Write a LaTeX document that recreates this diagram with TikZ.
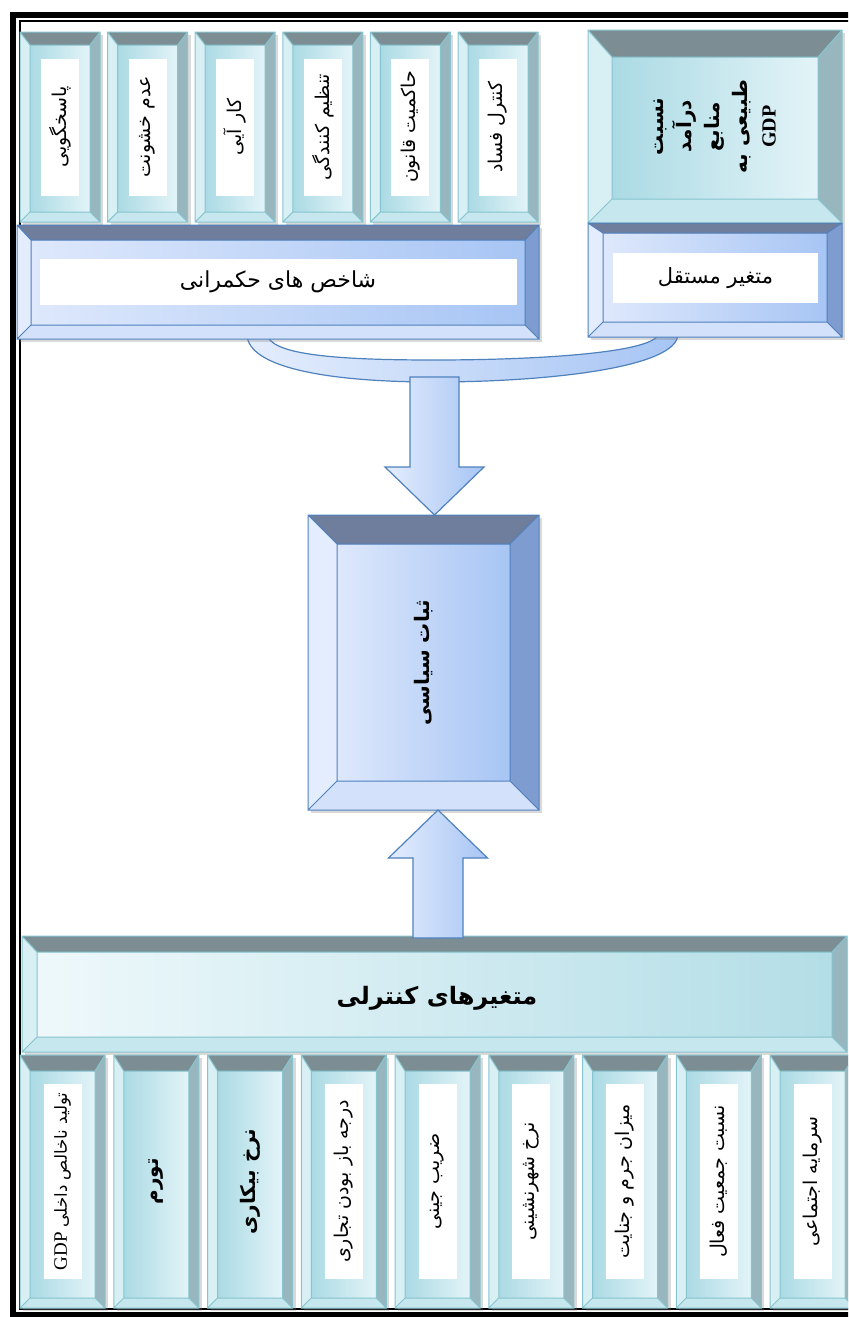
\documentclass[tikz,border=0pt]{standalone}
\usepackage{fontspec}
\usetikzlibrary{calc,shadows}
\TeXXeTstate=1
\newfontfamily\farsi[Script=Arabic]{DejaVu Sans}
\newfontfamily\latinfont{Liberation Serif}

% palettes
\definecolor{cyedgec}{HTML}{86C4CF}
\definecolor{cytopc}{HTML}{7C8E94}
\definecolor{cyleftc}{HTML}{D8EFF4}
\definecolor{cyrightc}{HTML}{98B6BE}
\definecolor{cybotc}{HTML}{C6E7EE}
\definecolor{cyfaceA}{HTML}{ABDAE4}
\definecolor{cyfaceB}{HTML}{E3F4F8}
\definecolor{blueedgec}{HTML}{4F81BD}
\definecolor{bluetopc}{HTML}{6E7E9C}
\definecolor{blueleftc}{HTML}{E4EDFD}
\definecolor{bluerightc}{HTML}{7E9CD0}
\definecolor{bluebotc}{HTML}{D3E1FA}
\definecolor{bluefaceA}{HTML}{DEE8FC}
\definecolor{bluefaceB}{HTML}{A7C5F4}

\tikzset{
  cytop/.style={fill=cytopc},
  cyleft/.style={fill=cyleftc},
  cyright/.style={fill=cyrightc},
  cybot/.style={fill=cybotc},
  cyface/.style={left color=cyfaceA, right color=cyfaceB},
  cyedge/.style={draw=cyedgec, line width=.5pt},
  cttop/.style={cytop},
  ctleft/.style={cyleft},
  ctright/.style={cyright},
  ctbot/.style={cybot},
  ctface/.style={left color=cyfaceB!60!white, right color=cyfaceA!90!white},
  ctedge/.style={cyedge},
  bltop/.style={fill=bluetopc},
  blleft/.style={fill=blueleftc},
  blright/.style={fill=bluerightc},
  blbot/.style={fill=bluebotc},
  blface/.style={left color=bluefaceA, right color=bluefaceB},
  bledge/.style={draw=blueedgec, line width=.5pt},
  box/.style={fill=white, inner sep=0pt, outer sep=0pt,
    drop shadow={opacity=.3, shadow xshift=1.5pt, shadow yshift=-1.5pt}},
  lbl/.style={font=\farsi\fontsize{9.5}{11}\selectfont, rotate=90, inner sep=0pt},
  strip/.style={lbl, fill=white},
  boldlbl/.style={lbl, font=\farsi\bfseries\fontsize{10}{14}\selectfont, align=center},
  arrowbody/.style={draw=blueedgec, line width=.6pt, left color=blueleftc, right color=bluefaceB},
}

% bevel frame round a box node: node, side depth, top depth, palette
\newcommand{\bevel}[4]{%
  \path let \p1=(#1.north west), \p2=(#1.south east) in
    coordinate (#1-a) at (\x1,\y1) coordinate (#1-b) at (\x2,\y1)
    coordinate (#1-c) at (\x2,\y2) coordinate (#1-d) at (\x1,\y2)
    coordinate (#1-e) at (\x1+#2,\y1-#3) coordinate (#1-f) at (\x2-#2,\y1-#3)
    coordinate (#1-g) at (\x2-#2,\y2+#2) coordinate (#1-h) at (\x1+#2,\y2+#2);
  \path[#4face] (#1-e) rectangle (#1-g);
  \fill[#4top] (#1-a) -- (#1-b) -- (#1-f) -- (#1-e) -- cycle;
  \fill[#4left] (#1-a) -- (#1-e) -- (#1-h) -- (#1-d) -- cycle;
  \fill[#4right] (#1-b) -- (#1-c) -- (#1-g) -- (#1-f) -- cycle;
  \fill[#4bot] (#1-d) -- (#1-h) -- (#1-g) -- (#1-c) -- cycle;
  \draw[#4edge] (#1-a) rectangle (#1-c) (#1-e) rectangle (#1-g)
    (#1-a) -- (#1-e) (#1-b) -- (#1-f) (#1-c) -- (#1-g) (#1-d) -- (#1-h);
}
% name, x, y, width, height, side, top, palette
\newcommand{\bevbox}[8]{%
  \node[box, minimum width=#4*0.5pt, minimum height=#5*0.5pt] (#1) at (#2,#3) {};
  \bevel{#1}{#6}{#7}{#8}}

\begin{document}
\begin{tikzpicture}[x=0.5pt, y=-0.5pt]
    \useasboundingbox (0,0) rectangle (848,1317);
    \clip (0,0) rectangle (848,1317);

    % double frame
    \draw[line width=3pt] (13,15) rectangle (880,1315);
    \draw[line width=.8pt] (20,21) rectangle (873,1309);

    % brace under the two upper groups
    \draw[arrowbody] (247,334) .. controls (247,368) and (330,382) .. (434,382)
        .. controls (545,382) and (678,368) .. (678,334) -- (658,334)
        .. controls (655,352) and (545,360) .. (434,360)
        .. controls (330,360) and (270,354) .. (267,334) -- cycle;

    % governance indicators
    \bevbox{acc}{60}{127}{80}{190}{5pt}{6.5pt}{cy}
    \bevbox{viol}{147.6}{127}{80}{190}{5pt}{6.5pt}{cy}
    \bevbox{eff}{235.2}{127}{80}{190}{5pt}{6.5pt}{cy}
    \bevbox{reg}{322.8}{127}{80}{190}{5pt}{6.5pt}{cy}
    \bevbox{law}{410.4}{127}{80}{190}{5pt}{6.5pt}{cy}
    \bevbox{corr}{498}{127}{80}{190}{5pt}{6.5pt}{cy}
    \node[strip, minimum width=137*0.5pt, minimum height=38*0.5pt] (acct) at (acc) {\beginR پاسخگویی\endR};
    \node[strip, minimum width=137*0.5pt, minimum height=38*0.5pt] (violt) at (viol) {\beginR عدم خشونت\endR};
    \node[strip, minimum width=137*0.5pt, minimum height=38*0.5pt] (efft) at (eff) {\beginR کار آیی\endR};
    \node[strip, minimum width=137*0.5pt, minimum height=38*0.5pt] (regt) at (reg) {\beginR تنظیم کنندگی\endR};
    \node[strip, minimum width=137*0.5pt, minimum height=38*0.5pt] (lawt) at (law) {\beginR حاکمیت قانون\endR};
    \node[strip, minimum width=137*0.5pt, minimum height=38*0.5pt] (corrt) at (corr) {\beginR کنترل فساد\endR};

    \bevbox{gov}{278}{282}{522}{114}{7pt}{7.5pt}{bl}
    \node[fill=white, minimum width=477*0.5pt, minimum height=46*0.5pt, inner sep=0pt,
        font=\farsi\fontsize{11}{12}\selectfont] (govt) at (gov) {\beginR شاخص های حکمرانی\endR};

    % natural resources
    \bevbox{res}{715}{126.5}{254}{193}{12pt}{13.5pt}{cy}
    \node[boldlbl] (rest) at (res) {\beginR نسبت\endR\\ \beginR درآمد\endR\\ \beginR منابع\endR\\
        \beginR طبیعی به\endR\\ {\latinfont\bfseries GDP}};
    \bevbox{resl}{715}{280}{254}{114}{7.5pt}{5pt}{bl}
    \node[fill=white, minimum width=205*0.5pt, minimum height=50*0.5pt, inner sep=0pt,
        font=\farsi\fontsize{10.5}{12}\selectfont] (reslt) at (715.5,278) {\beginR متغیر مستقل\endR};

    % political stability
    \bevbox{stab}{423.5}{662.5}{231}{295}{14.5pt}{14.5pt}{bl}
    \node[lbl, font=\farsi\bfseries\fontsize{10}{12}\selectfont] (stabt) at (stab) {\beginR ثبات سیاسی\endR};

    % control variables
    \bevbox{ctrl}{434.5}{994}{825}{116}{7.5pt}{8pt}{ct}
    \node[font=\farsi\bfseries\fontsize{12}{14}\selectfont] (ctrlt) at (437,998) {\beginR متغیرهای کنترلی\endR};

    \bevbox{gdp}{62.5}{1181.5}{85}{253}{5pt}{8pt}{cy}
    \bevbox{infl}{156.25}{1181.5}{85}{253}{5pt}{8pt}{cy}
    \bevbox{unemp}{250}{1181.5}{85}{253}{5pt}{8pt}{cy}
    \bevbox{trade}{343.75}{1181.5}{85}{253}{5pt}{8pt}{cy}
    \bevbox{gini}{437.5}{1181.5}{85}{253}{5pt}{8pt}{cy}
    \bevbox{urban}{531.25}{1181.5}{85}{253}{5pt}{8pt}{cy}
    \bevbox{crime}{625}{1181.5}{85}{253}{5pt}{8pt}{cy}
    \bevbox{labor}{718.75}{1181.5}{85}{253}{5pt}{8pt}{cy}
    \bevbox{social}{812.5}{1181.5}{85}{253}{5pt}{8pt}{cy}
    \node[strip, minimum width=195*0.5pt, minimum height=38*0.5pt, font=\farsi\fontsize{8.3}{10}\selectfont] (gdpt) at (gdp)
        {\beginR تولید ناخالص داخلی \beginL{\latinfont\fontsize{9.5}{10}\selectfont GDP}\endL\endR};
    \node[boldlbl] (inflt) at (infl) {\beginR تورم\endR};
    \node[boldlbl] (unempt) at (unemp) {\beginR نرخ بیکاری\endR};
    \node[strip, minimum width=195*0.5pt, minimum height=38*0.5pt] (tradet) at (trade) {\beginR درجه باز بودن تجاری\endR};
    \node[strip, minimum width=195*0.5pt, minimum height=38*0.5pt] (ginit) at (gini) {\beginR ضریب جینی\endR};
    \node[strip, minimum width=195*0.5pt, minimum height=38*0.5pt] (urbant) at (urban) {\beginR نرخ شهرنشینی\endR};
    \node[strip, minimum width=195*0.5pt, minimum height=38*0.5pt] (crimet) at (crime) {\beginR میزان جرم و جنایت\endR};
    \node[strip, minimum width=195*0.5pt, minimum height=38*0.5pt] (labort) at (labor) {\beginR نسبت جمعیت فعال\endR};
    \node[strip, minimum width=195*0.5pt, minimum height=38*0.5pt] (socialt) at (social) {\beginR سرمایه اجتماعی\endR};

    % block arrows
    \coordinate (dntop) at (434.5,377);
    \coordinate (dntip) at (dntop |- stab.north);
    \draw[arrowbody] ($(dntop)+(-24.5,0)$) -- ($(dntip)+(-24.5,-48)$) -- ($(dntip)+(-49.5,-48)$)
        -- (dntip) -- ($(dntip)+(49.5,-48)$) -- ($(dntip)+(24.5,-48)$) -- ($(dntop)+(24.5,0)$) -- cycle;
    \coordinate (upfoot) at (438,938);
    \coordinate (uptip) at (upfoot |- stab.south);
    \draw[arrowbody] ($(upfoot)+(-25,0)$) -- ($(uptip)+(-25,48)$) -- ($(uptip)+(-49.5,48)$)
        -- (uptip) -- ($(uptip)+(49.5,48)$) -- ($(uptip)+(25,48)$) -- ($(upfoot)+(25,0)$) -- cycle;
\end{tikzpicture}
\end{document}
